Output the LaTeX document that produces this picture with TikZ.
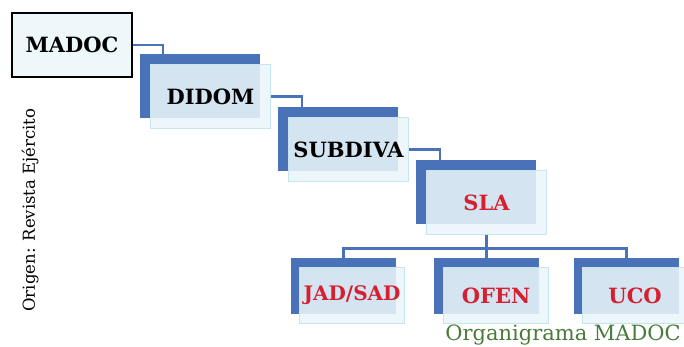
\documentclass[tikz,border=0pt]{standalone}
\usepackage{fontspec}
\setmainfont{DejaVu Serif}
\definecolor{orgblue}{HTML}{4A72B8}
\definecolor{frontfill}{HTML}{EAF6FA}
\definecolor{frontline}{HTML}{C5E5EF}
\definecolor{madocfill}{HTML}{EEF8FA}
\definecolor{labred}{HTML}{D42030}
\definecolor{capgreen}{HTML}{4A7A3A}
\tikzset{
  backbox/.style={fill=orgblue, draw=none, inner sep=0pt, anchor=north west},
  frontbox/.style={fill=frontfill, fill opacity=0.87, text opacity=1, draw=frontline, line width=1.2pt, inner sep=0pt, anchor=north west, font=\fontsize{21}{24}\selectfont\bfseries},
  bigsize/.style={minimum width=120pt, minimum height=64pt},
  smallsize/.style={minimum width=105pt, minimum height=56pt},
  conn/.style={draw=orgblue, line width=2.7pt},
}
\begin{document}
\begin{tikzpicture}[x=1pt,y=-1pt]
\useasboundingbox (0,0) rectangle (684,347);
\clip (0,0) rectangle (684,347);
% MADOC
\node[draw=black, line width=2pt, fill=madocfill, minimum width=120pt, minimum height=64pt, inner sep=0pt, anchor=north west, font=\fontsize{21}{24}\selectfont\bfseries] (madoc) at (11,12) {MADOC};
% DIDOM
\node[backbox, bigsize] (didomb) at (140,54) {};
\node[frontbox, bigsize] (didom) at (150,64) {DIDOM};
% SUBDIVA
\node[backbox, bigsize] (subdivab) at (278,107) {};
\node[frontbox, bigsize] (subdiva) at (288,117) {SUBDIVA};
% SLA
\node[backbox, bigsize] (slab) at (416,160) {};
\node[frontbox, bigsize, text=labred] (sla) at (426,170) {SLA};
% children
\node[backbox, smallsize] (jadb) at (291,258) {};
\node[frontbox, smallsize, text=labred, font=\fontsize{20}{24}\selectfont\bfseries] (jad) at (299,267) {JAD/SAD};
\node[backbox, smallsize] (ofenb) at (434,258) {};
\node[frontbox, smallsize, text=labred] (ofen) at (443,267) {OFEN};
\node[backbox, smallsize] (ucob) at (574,258) {};
\node[frontbox, smallsize, text=labred] (uco) at (582,267) {UCO};
% connectors
\draw[conn] (madoc.east) -| ([xshift=23pt]didomb.north west);
\draw[conn] (didom.east) -| ([xshift=24pt]subdivab.north west);
\draw[conn] (subdiva.east) -| ([xshift=24pt]slab.north west);
\draw[conn] (sla.south) -- (sla.south |- ofenb.north);
\coordinate (bar) at ([yshift=-13pt]sla.south);
\draw[conn] (jadb.north) |- (bar) -| (ucob.north);
% captions
\node[rotate=90, font=\fontsize{16.5}{19}\selectfont] (origen) at (30,210) {Origen: Revista Ejército};
\node[anchor=base east, inner sep=0pt, text=capgreen, font=\fontsize{21}{25}\selectfont] (caption) at (681,340) {Organigrama MADOC};
\end{tikzpicture}
\end{document}
